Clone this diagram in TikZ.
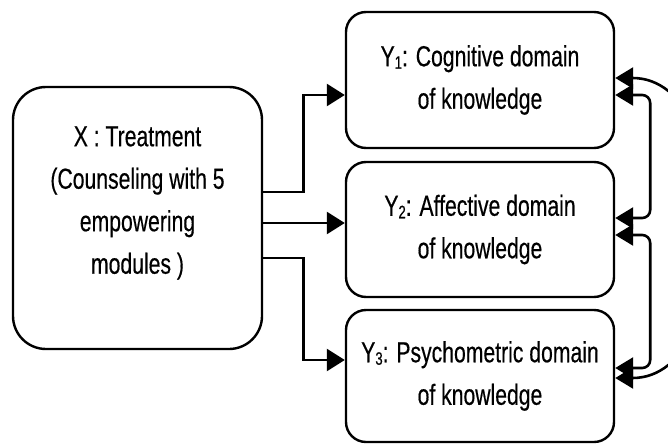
\documentclass[tikz,border=0pt]{standalone}
\usepackage{fontspec}
\setmainfont[FakeStretch=0.73,FakeBold=0.4]{Liberation Sans}
\usetikzlibrary{arrows.meta}
\newcommand{\subidx}[1]{\raisebox{-2.5pt}{\fontsize{18}{18}\selectfont #1}}
\tikzset{
  box/.style={draw, line width=2.4pt, align=center, inner sep=0pt,
    font=\fontsize{29}{42.5}\selectfont},
  ybox/.style={box, rounded corners=20pt, minimum width=268pt},
  xbox/.style={box, rounded corners=33pt, minimum width=249pt, minimum height=262pt},
  lbl/.style={align=center, inner sep=0pt, font=\fontsize{29}{42.5}\selectfont},
  conn/.style={line width=2.6pt, -{Triangle[length=18pt,width=22pt]}},
  dconn/.style={line width=2.6pt, {Triangle[length=18pt,width=21pt]}-{Triangle[length=18pt,width=21pt]}, rounded corners=8pt},
}
\begin{document}
\begin{tikzpicture}[x=1pt,y=-1pt]
\clip (0,0) rectangle (668,444);
\fill[white] (0,0) rectangle (668,444);
\node[xbox] (X) at (137.5,218) {};
\node[lbl] (Xt) at (137.5,203) {X : Treatment\\(Counseling with 5\\empowering\\modules )};
\node[ybox, minimum height=136pt] (Y1) at (480,80) {Y\subidx{1}: Cognitive domain\\of knowledge};
\node[ybox, minimum height=135pt] (Y2) at (480,229.5) {Y\subidx{2}: Affective domain\\of knowledge};
\node[ybox, minimum height=132pt] (Y3) at (480,376) {Y\subidx{3}: Psychometric domain\\of knowledge};
% left connectors
\draw[conn] ([yshift=26pt]X.east) -- ++(40,0) |- ([yshift=-15pt]Y1.west);
\draw[conn] ([yshift=-5pt]X.east) -- ([yshift=-5pt]X.east -| Y2.west);
\draw[conn] ([yshift=-40pt]X.east) -- ++(40,0) |- ([yshift=16pt]Y3.west);
% right connectors
\draw[dconn] ([yshift=-15pt]Y1.east) -- ++(35,0) |- ([yshift=11.5pt]Y2.east);
\draw[dconn] ([yshift=-5.5pt]Y2.east) -- ++(35,0) |- ([yshift=8pt]Y3.east);
\draw[dconn] ([yshift=2pt]Y1.east) .. controls +(126,0) and +(126,0) .. ([yshift=-2pt]Y3.east);
\end{tikzpicture}
\end{document}
